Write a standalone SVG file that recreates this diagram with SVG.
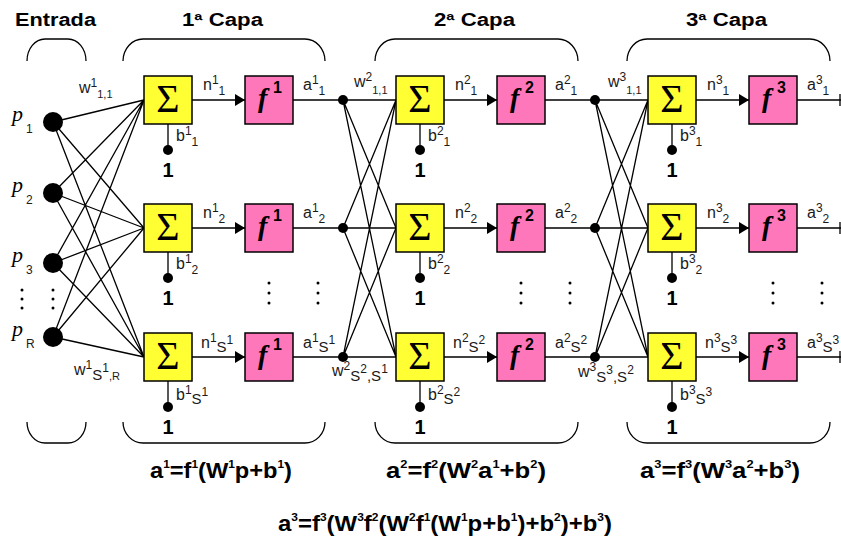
<svg xmlns="http://www.w3.org/2000/svg" width="841" height="539" viewBox="0 0 841 539">
<style>
.ln{stroke:#000;stroke-width:1.3;fill:none}
.br{stroke:#000;stroke-width:1.3;fill:none}
.sum{fill:#FFFF33;stroke:#000;stroke-width:1.5}
.fb{fill:#FF77BB;stroke:#000;stroke-width:1.5}
.dot{fill:#000}
.sig{font-family:"Liberation Serif","DejaVu Serif",serif;font-size:40px;fill:#000;text-anchor:middle}
.fi{font-family:"Liberation Serif","DejaVu Serif",serif;font-size:28px;font-style:italic;font-weight:bold;fill:#000}
.fs{font-family:"Liberation Sans",Arial,sans-serif;font-size:16px;font-weight:bold;fill:#000}
.lb{font-family:"Liberation Sans",Arial,sans-serif;font-size:16px;fill:#1a1a1a}
.sm{font-size:12px}
.xs{font-size:11px}
.S{font-size:15px}
.one{font-family:"Liberation Sans",Arial,sans-serif;font-size:20px;font-weight:bold;fill:#000;text-anchor:middle}
.ttl{font-family:"Liberation Sans",Arial,sans-serif;font-size:18px;font-weight:bold;fill:#000}
.p{font-family:"Liberation Serif","DejaVu Serif",serif;font-size:22px;font-style:italic;fill:#000}
.eq{font-family:"Liberation Sans Narrow","Liberation Sans",Arial,sans-serif;font-size:22px;font-weight:bold;fill:#000}
.eqs{font-size:11px}
</style>
<defs>
<marker id="arr" markerUnits="userSpaceOnUse" markerWidth="10" markerHeight="12" refX="10" refY="6" orient="auto">
<path d="M0,0 L10,6 L0,12 Z" fill="#000"/>
</marker>
</defs>

<g id="titles">
<text class="ttl" x="15" y="26" textLength="81" lengthAdjust="spacingAndGlyphs">Entrada</text>
<text class="ttl" x="182" y="26" textLength="81" lengthAdjust="spacingAndGlyphs">1ª Capa</text>
<text class="ttl" x="434" y="26" textLength="81" lengthAdjust="spacingAndGlyphs">2ª Capa</text>
<text class="ttl" x="686" y="26" textLength="81" lengthAdjust="spacingAndGlyphs">3ª Capa</text>
</g>

<g id="braces">
<path class="br" d="M27,61 A18,22 0 0 1 45,39 H68 A18,22 0 0 1 86,61"/>
<path class="br" d="M123,61 A20,22 0 0 1 143,39 H305 A20,22 0 0 1 325,61"/>
<path class="br" d="M375,61 A20,22 0 0 1 395,39 H558 A20,22 0 0 1 578,61"/>
<path class="br" d="M627,61 A20,22 0 0 1 647,39 H810 A20,22 0 0 1 830,61"/>
<path class="br" d="M27,422 A18,21 0 0 0 45,443 H68 A18,21 0 0 0 86,422"/>
<path class="br" d="M123,422 A20,21 0 0 0 143,443 H305 A20,21 0 0 0 325,422"/>
<path class="br" d="M375,422 A20,21 0 0 0 395,443 H558 A20,21 0 0 0 578,422"/>
<path class="br" d="M627,422 A20,21 0 0 0 647,443 H810 A20,21 0 0 0 830,422"/>
</g>

<g id="connectors">
<path class="ln" d="M53,122 L144,100 M53,122 L144,228 M53,122 L144,357
M53,193 L144,100 M53,193 L144,228 M53,193 L144,357
M53,263 L144,100 M53,263 L144,228 M53,263 L144,357
M53,337 L144,100 M53,337 L144,228 M53,337 L144,357"/>
<path class="ln" d="M343,100 L396,228 M343,100 L396,357
M343,228 L396,100 M343,228 L396,357
M343,357 L396,100 M343,357 L396,228"/>
<path class="ln" d="M595,100 L648,228 M595,100 L648,357
M595,228 L648,100 M595,228 L648,357
M595,357 L648,100 M595,357 L648,228"/>
<path class="ln" d="M293,100 H396 M293,228 H396 M293,357 H396
M545,100 H648 M545,228 H648 M545,357 H648
M797,100 H841 M797,228 H841 M797,357 H841
M840,94 V106 M840,222 V234 M840,351 V363"/>
<g class="ln" marker-end="url(#arr)">
<line x1="192" y1="100" x2="245" y2="100"/>
<line x1="192" y1="228" x2="245" y2="228"/>
<line x1="192" y1="357" x2="245" y2="357"/>
<line x1="444" y1="100" x2="497" y2="100"/>
<line x1="444" y1="228" x2="497" y2="228"/>
<line x1="444" y1="357" x2="497" y2="357"/>
<line x1="696" y1="100" x2="749" y2="100"/>
<line x1="696" y1="228" x2="749" y2="228"/>
<line x1="696" y1="357" x2="749" y2="357"/>
</g>
<path class="ln" d="M168,124 V150 M168,252 V278 M168,381 V407
M420,124 V150 M420,252 V278 M420,381 V407
M672,124 V150 M672,252 V278 M672,381 V407"/>
</g>

<g id="inputs">
<g id="in-p1"><circle class="dot" cx="53" cy="122" r="10"/><text class="p" x="12" y="121">p</text><text class="lb sm" x="26" y="133">1</text></g>
<g id="in-p2"><circle class="dot" cx="53" cy="193" r="10"/><text class="p" x="12" y="192">p</text><text class="lb sm" x="26" y="204">2</text></g>
<g id="in-p3"><circle class="dot" cx="53" cy="263" r="10"/><text class="p" x="12" y="262">p</text><text class="lb sm" x="26" y="274">3</text></g>
<g id="in-pR"><circle class="dot" cx="53" cy="337" r="10"/><text class="p" x="12" y="336">p</text><text class="lb sm" x="26" y="348">R</text></g>
</g>

<g id="ellipses">
<circle class="dot" cx="22" cy="290" r="1.5"/><circle class="dot" cx="22" cy="299" r="1.5"/><circle class="dot" cx="22" cy="308" r="1.5"/>
<circle class="dot" cx="53" cy="290" r="1.5"/><circle class="dot" cx="53" cy="299" r="1.5"/><circle class="dot" cx="53" cy="308" r="1.5"/>
<circle class="dot" cx="269" cy="283" r="1.5"/><circle class="dot" cx="269" cy="293" r="1.5"/><circle class="dot" cx="269" cy="303" r="1.5"/>
<circle class="dot" cx="318" cy="283" r="1.5"/><circle class="dot" cx="318" cy="293" r="1.5"/><circle class="dot" cx="318" cy="303" r="1.5"/>
<circle class="dot" cx="521" cy="283" r="1.5"/><circle class="dot" cx="521" cy="293" r="1.5"/><circle class="dot" cx="521" cy="303" r="1.5"/>
<circle class="dot" cx="570" cy="283" r="1.5"/><circle class="dot" cx="570" cy="293" r="1.5"/><circle class="dot" cx="570" cy="303" r="1.5"/>
<circle class="dot" cx="773" cy="283" r="1.5"/><circle class="dot" cx="773" cy="293" r="1.5"/><circle class="dot" cx="773" cy="303" r="1.5"/>
<circle class="dot" cx="822" cy="283" r="1.5"/><circle class="dot" cx="822" cy="293" r="1.5"/><circle class="dot" cx="822" cy="303" r="1.5"/>
</g>

<g id="L1-sum1"><rect class="sum" x="144" y="76" width="48" height="48"/><text class="sig" x="168" y="112">Σ</text></g>
<g id="L1-sum2"><rect class="sum" x="144" y="204" width="48" height="48"/><text class="sig" x="168" y="240">Σ</text></g>
<g id="L1-sum3"><rect class="sum" x="144" y="333" width="48" height="48"/><text class="sig" x="168" y="369">Σ</text></g>
<g id="L1-f1"><rect class="fb" x="245" y="76" width="48" height="48"/><text class="fi" x="258" y="107">f</text><text class="fs" x="273" y="93">1</text></g>
<g id="L1-f2"><rect class="fb" x="245" y="204" width="48" height="48"/><text class="fi" x="258" y="235">f</text><text class="fs" x="273" y="221">1</text></g>
<g id="L1-f3"><rect class="fb" x="245" y="333" width="48" height="48"/><text class="fi" x="258" y="364">f</text><text class="fs" x="273" y="350">1</text></g>
<g id="L1-bias1"><circle class="dot" cx="168" cy="150" r="5"/><text class="one" x="168" y="177">1</text></g>
<g id="L1-bias2"><circle class="dot" cx="168" cy="278" r="5"/><text class="one" x="168" y="305">1</text></g>
<g id="L1-bias3"><circle class="dot" cx="168" cy="407" r="5"/><text class="one" x="168" y="434">1</text></g>
<g id="L1-j"><circle class="dot" cx="343" cy="100" r="5"/><circle class="dot" cx="343" cy="228" r="5"/><circle class="dot" cx="343" cy="357" r="5"/></g>

<g id="L2-sum1"><rect class="sum" x="396" y="76" width="48" height="48"/><text class="sig" x="420" y="112">Σ</text></g>
<g id="L2-sum2"><rect class="sum" x="396" y="204" width="48" height="48"/><text class="sig" x="420" y="240">Σ</text></g>
<g id="L2-sum3"><rect class="sum" x="396" y="333" width="48" height="48"/><text class="sig" x="420" y="369">Σ</text></g>
<g id="L2-f1"><rect class="fb" x="497" y="76" width="48" height="48"/><text class="fi" x="510" y="107">f</text><text class="fs" x="525" y="93">2</text></g>
<g id="L2-f2"><rect class="fb" x="497" y="204" width="48" height="48"/><text class="fi" x="510" y="235">f</text><text class="fs" x="525" y="221">2</text></g>
<g id="L2-f3"><rect class="fb" x="497" y="333" width="48" height="48"/><text class="fi" x="510" y="364">f</text><text class="fs" x="525" y="350">2</text></g>
<g id="L2-bias1"><circle class="dot" cx="420" cy="150" r="5"/><text class="one" x="420" y="177">1</text></g>
<g id="L2-bias2"><circle class="dot" cx="420" cy="278" r="5"/><text class="one" x="420" y="305">1</text></g>
<g id="L2-bias3"><circle class="dot" cx="420" cy="407" r="5"/><text class="one" x="420" y="434">1</text></g>
<g id="L2-j"><circle class="dot" cx="595" cy="100" r="5"/><circle class="dot" cx="595" cy="228" r="5"/><circle class="dot" cx="595" cy="357" r="5"/></g>

<g id="L3-sum1"><rect class="sum" x="648" y="76" width="48" height="48"/><text class="sig" x="672" y="112">Σ</text></g>
<g id="L3-sum2"><rect class="sum" x="648" y="204" width="48" height="48"/><text class="sig" x="672" y="240">Σ</text></g>
<g id="L3-sum3"><rect class="sum" x="648" y="333" width="48" height="48"/><text class="sig" x="672" y="369">Σ</text></g>
<g id="L3-f1"><rect class="fb" x="749" y="76" width="48" height="48"/><text class="fi" x="762" y="107">f</text><text class="fs" x="777" y="93">3</text></g>
<g id="L3-f2"><rect class="fb" x="749" y="204" width="48" height="48"/><text class="fi" x="762" y="235">f</text><text class="fs" x="777" y="221">3</text></g>
<g id="L3-f3"><rect class="fb" x="749" y="333" width="48" height="48"/><text class="fi" x="762" y="364">f</text><text class="fs" x="777" y="350">3</text></g>
<g id="L3-bias1"><circle class="dot" cx="672" cy="150" r="5"/><text class="one" x="672" y="177">1</text></g>
<g id="L3-bias2"><circle class="dot" cx="672" cy="278" r="5"/><text class="one" x="672" y="305">1</text></g>
<g id="L3-bias3"><circle class="dot" cx="672" cy="407" r="5"/><text class="one" x="672" y="434">1</text></g>

<g id="labels" class="lb">
<text x="79" y="93">w<tspan class="sm" y="87">1</tspan><tspan class="xs" y="98">1,1</tspan></text>
<text x="203" y="90">n<tspan class="sm" y="84">1</tspan><tspan class="sm" y="95">1</tspan></text>
<text x="303" y="90">a<tspan class="sm" y="84">1</tspan><tspan class="sm" y="95">1</tspan></text>
<text x="176" y="141">b<tspan class="sm" y="135">1</tspan><tspan class="sm" y="146">1</tspan></text>
<text x="203" y="218">n<tspan class="sm" y="212">1</tspan><tspan class="sm" y="223">2</tspan></text>
<text x="303" y="218">a<tspan class="sm" y="212">1</tspan><tspan class="sm" y="223">2</tspan></text>
<text x="176" y="269">b<tspan class="sm" y="263">1</tspan><tspan class="sm" y="274">2</tspan></text>
<text x="201" y="348">n<tspan class="sm" y="342">1</tspan><tspan class="S" y="352">S</tspan><tspan class="sm" y="344">1</tspan></text>
<text x="303" y="348">a<tspan class="sm" y="342">1</tspan><tspan class="S" y="352">S</tspan><tspan class="sm" y="344">1</tspan></text>
<text x="176" y="400">b<tspan class="sm" y="394">1</tspan><tspan class="S" y="404">S</tspan><tspan class="sm" y="396">1</tspan></text>
<text x="74" y="375">w<tspan class="sm" y="369">1</tspan><tspan class="S" y="380">S</tspan><tspan class="sm" y="372">1</tspan><tspan class="xs" y="380">,R</tspan></text>
<text x="354" y="87">w<tspan class="sm" y="81">2</tspan><tspan class="xs" y="94">1,1</tspan></text>
<text x="455" y="90">n<tspan class="sm" y="84">2</tspan><tspan class="sm" y="95">1</tspan></text>
<text x="555" y="90">a<tspan class="sm" y="84">2</tspan><tspan class="sm" y="95">1</tspan></text>
<text x="428" y="141">b<tspan class="sm" y="135">2</tspan><tspan class="sm" y="146">1</tspan></text>
<text x="455" y="218">n<tspan class="sm" y="212">2</tspan><tspan class="sm" y="223">2</tspan></text>
<text x="555" y="218">a<tspan class="sm" y="212">2</tspan><tspan class="sm" y="223">2</tspan></text>
<text x="428" y="269">b<tspan class="sm" y="263">2</tspan><tspan class="sm" y="274">2</tspan></text>
<text x="453" y="348">n<tspan class="sm" y="342">2</tspan><tspan class="S" y="352">S</tspan><tspan class="sm" y="344">2</tspan></text>
<text x="555" y="348">a<tspan class="sm" y="342">2</tspan><tspan class="S" y="352">S</tspan><tspan class="sm" y="344">2</tspan></text>
<text x="428" y="400">b<tspan class="sm" y="394">2</tspan><tspan class="S" y="404">S</tspan><tspan class="sm" y="396">2</tspan></text>
<text x="332" y="376">w<tspan class="sm" y="370">2</tspan><tspan class="S" y="381">S</tspan><tspan class="sm" y="373">2</tspan><tspan class="S" y="381">,S</tspan><tspan class="sm" y="373">1</tspan></text>
<text x="608" y="87">w<tspan class="sm" y="81">3</tspan><tspan class="xs" y="94">1,1</tspan></text>
<text x="707" y="90">n<tspan class="sm" y="84">3</tspan><tspan class="sm" y="95">1</tspan></text>
<text x="807" y="90">a<tspan class="sm" y="84">3</tspan><tspan class="sm" y="95">1</tspan></text>
<text x="680" y="141">b<tspan class="sm" y="135">3</tspan><tspan class="sm" y="146">1</tspan></text>
<text x="707" y="218">n<tspan class="sm" y="212">3</tspan><tspan class="sm" y="223">2</tspan></text>
<text x="807" y="218">a<tspan class="sm" y="212">3</tspan><tspan class="sm" y="223">2</tspan></text>
<text x="680" y="269">b<tspan class="sm" y="263">3</tspan><tspan class="sm" y="274">2</tspan></text>
<text x="705" y="348">n<tspan class="sm" y="342">3</tspan><tspan class="S" y="352">S</tspan><tspan class="sm" y="344">3</tspan></text>
<text x="807" y="348">a<tspan class="sm" y="342">3</tspan><tspan class="S" y="352">S</tspan><tspan class="sm" y="344">3</tspan></text>
<text x="680" y="400">b<tspan class="sm" y="394">3</tspan><tspan class="S" y="404">S</tspan><tspan class="sm" y="396">3</tspan></text>
<text x="578" y="377">w<tspan class="sm" y="371">3</tspan><tspan class="S" y="382">S</tspan><tspan class="sm" y="374">3</tspan><tspan class="S" y="382">,S</tspan><tspan class="sm" y="374">2</tspan></text>
</g>

<g id="equations" class="eq">
<text x="150" y="478" textLength="142" lengthAdjust="spacingAndGlyphs">a<tspan class="eqs" y="468">1</tspan><tspan y="478">=f</tspan><tspan class="eqs" y="468">1</tspan><tspan y="478">(W</tspan><tspan class="eqs" y="468">1</tspan><tspan y="478">p+b</tspan><tspan class="eqs" y="468">1</tspan><tspan y="478">)</tspan></text>
<text x="386" y="478" textLength="160" lengthAdjust="spacingAndGlyphs">a<tspan class="eqs" y="468">2</tspan><tspan y="478">=f</tspan><tspan class="eqs" y="468">2</tspan><tspan y="478">(W</tspan><tspan class="eqs" y="468">2</tspan><tspan y="478">a</tspan><tspan class="eqs" y="468">1</tspan><tspan y="478">+b</tspan><tspan class="eqs" y="468">2</tspan><tspan y="478">)</tspan></text>
<text x="640" y="478" textLength="160" lengthAdjust="spacingAndGlyphs">a<tspan class="eqs" y="468">3</tspan><tspan y="478">=f</tspan><tspan class="eqs" y="468">3</tspan><tspan y="478">(W</tspan><tspan class="eqs" y="468">3</tspan><tspan y="478">a</tspan><tspan class="eqs" y="468">2</tspan><tspan y="478">+b</tspan><tspan class="eqs" y="468">3</tspan><tspan y="478">)</tspan></text>
<text x="278" y="531" textLength="334" lengthAdjust="spacingAndGlyphs">a<tspan class="eqs" y="521">3</tspan><tspan y="531">=f</tspan><tspan class="eqs" y="521">3</tspan><tspan y="531">(W</tspan><tspan class="eqs" y="521">3</tspan><tspan y="531">f</tspan><tspan class="eqs" y="521">2</tspan><tspan y="531">(W</tspan><tspan class="eqs" y="521">2</tspan><tspan y="531">f</tspan><tspan class="eqs" y="521">1</tspan><tspan y="531">(W</tspan><tspan class="eqs" y="521">1</tspan><tspan y="531">p+b</tspan><tspan class="eqs" y="521">1</tspan><tspan y="531">)+b</tspan><tspan class="eqs" y="521">2</tspan><tspan y="531">)+b</tspan><tspan class="eqs" y="521">3</tspan><tspan y="531">)</tspan></text>
</g>
</svg>
